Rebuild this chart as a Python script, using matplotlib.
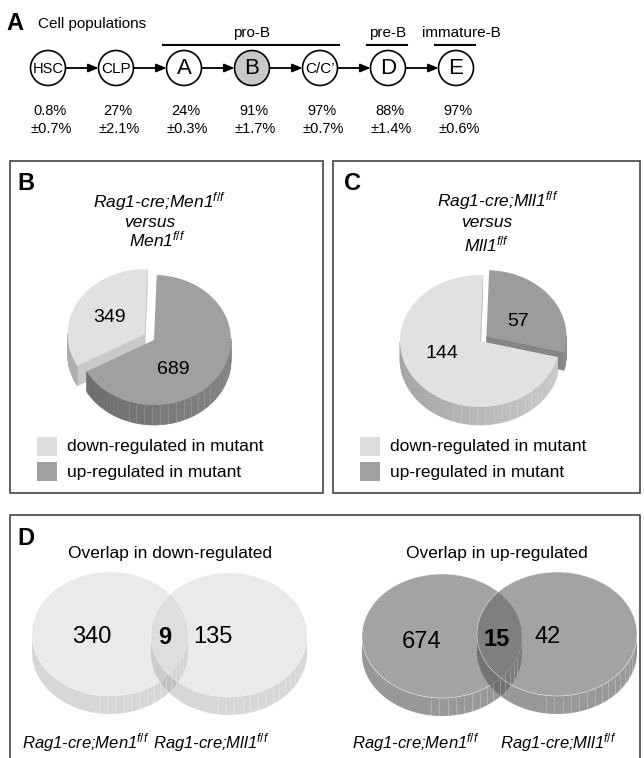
import numpy as np
import matplotlib
matplotlib.use("Agg")
import matplotlib.pyplot as plt
from matplotlib.patches import Polygon, Circle, Rectangle, Ellipse

plt.rcParams["font.family"] = ["Liberation Sans", "DejaVu Sans"]
plt.rcParams["mathtext.fontset"] = "custom"
plt.rcParams["mathtext.rm"] = "Liberation Sans"
plt.rcParams["mathtext.it"] = "Liberation Sans:italic"
plt.rcParams["mathtext.bf"] = "Liberation Sans:bold"

# panel A: cell populations
populations = ["HSC", "CLP", "A", "B", "C/C\u2019", "D", "E"]
pop_pct = ["0.8%", "27%", "24%", "91%", "97%", "88%", "97%"]
pop_sd = ["\u00b10.7%", "\u00b12.1%", "\u00b10.3%", "\u00b11.7%", "\u00b10.7%", "\u00b11.4%", "\u00b10.6%"]
stage_names = ["pro-B", "pre-B", "immature-B"]
stage_span = [(2, 4), (5, 5), (6, 6)]

# panels B and C: number of genes (down, up)
pie_labels = ["down-regulated in mutant", "up-regulated in mutant"]
men1_counts = [349, 689]
mll1_counts = [144, 57]

# panel D: only Men1, both, only Mll1
down_overlap = [340, 9, 135]
up_overlap = [674, 15, 42]
venn_names = [r"Rag1-cre;Men1$^{f/f}$", r"Rag1-cre;Mll1$^{f/f}$"]

LIGHT = (0.882, 0.882, 0.882)
DARK = (0.627, 0.627, 0.627)


def shade(c, f):
    return tuple(min(1.0, max(0.0, v * f)) for v in c)


def pie3d(ax, values, cx, cy, rx, ry, depth, tops, sides, explode, start=88):
    total = float(sum(values))
    spans = []
    a = start
    for v in values:
        s = 360.0 * v / total
        spans.append((a, a + s))
        a += s
    faces = []
    top_polys = []
    stripes = []
    for i, (a1, a2) in enumerate(spans):
        mid = np.radians((a1 + a2) / 2)
        x0 = cx + explode[i] * np.cos(mid)
        y0 = cy - explode[i] * np.sin(mid)

        def edge(deg):
            r = np.radians(deg)
            return x0 + rx * np.cos(r), y0 - ry * np.sin(r)

        tt = np.linspace(a1, a2, int((a2 - a1) * 2) + 4)
        ex, ey = edge(tt)
        top_polys.append((np.column_stack([np.r_[x0, ex], np.r_[y0, ey]]), tops[i]))

        n = int(np.ceil((a2 - a1) / 3.0)) + 1
        bounds = np.linspace(a1, a2, n)
        for k, (t0, t1) in enumerate(zip(bounds[:-1], bounds[1:])):
            tm = np.radians((t0 + t1) / 2)
            if np.sin(tm) >= 0:
                continue
            xa, ya = edge(t0)
            xb, yb = edge(t1)
            quad = [(xa, ya), (xb, yb), (xb, yb + depth), (xa, ya + depth)]
            col = shade(sides[i], 1 + 0.10 * np.cos(tm))
            faces.append((np.mean([ya, yb]) + depth / 2, quad, col))
            if k % 2 == 0 and -0.4 < np.cos(tm) < 0.8:
                stripes.append(((xa, xa), (ya + 1, ya + depth)))

        for deg, normal in ((a1, a1 - 90), (a2, a2 + 90)):
            if np.sin(np.radians(normal)) >= 0:
                continue
            xe, ye = edge(deg)
            quad = [(x0, y0), (xe, ye), (xe, ye + depth), (x0, y0 + depth)]
            faces.append(((y0 + ye) / 2 + depth / 2, quad, shade(sides[i], 1.05)))

    for _, quad, col in sorted(faces, key=lambda f: f[0]):
        ax.add_patch(Polygon(quad, closed=True, fc=col, ec=col, lw=0.5))
    for sx, sy in stripes:
        ax.plot(sx, sy, color="white", lw=0.4, alpha=0.25)
    for poly, col in top_polys:
        ax.add_patch(Polygon(poly, closed=True, fc=col, ec="none"))


def cylinder(ax, cx, cy, rx, ry, depth, top, side, alpha):
    t = np.linspace(np.pi, 2 * np.pi, 120)
    x = cx + rx * np.cos(t)
    y = cy - ry * np.sin(t)
    band = np.column_stack([np.r_[x, x[::-1]], np.r_[y, y[::-1] + depth]])
    ax.add_patch(Polygon(band, closed=True, fc=side, ec="none", alpha=alpha))
    for deg in np.arange(262, 346, 6):
        r = np.radians(deg)
        xs = cx + rx * np.cos(r)
        ys = cy - ry * np.sin(r)
        ax.plot([xs, xs], [ys + 1, ys + depth], color="white", lw=0.5, alpha=0.35)
    ax.add_patch(Ellipse((cx, cy), 2 * rx, 2 * ry, fc=top, ec="white",
                         lw=0.5, alpha=alpha))


fig = plt.figure(figsize=(6.44, 7.58), dpi=100)
ax = fig.add_axes([0, 0, 1, 1])
ax.set_xlim(0, 644)
ax.set_ylim(758, 0)
ax.axis("off")

# ---------- A ----------
ax.text(6, 30, "A", fontsize=17, fontweight="bold")
ax.text(38, 28, "Cell populations", fontsize=11)
xs = [48 + 68 * i for i in range(len(populations))]
cy_a = 68
r = 17.5
label_sizes = [10.5, 11, 16, 16, 11, 16, 16]
for i, name in enumerate(populations):
    fc = "#c8c8c8" if name == "B" else "white"
    ax.add_patch(Circle((xs[i], cy_a), r, fc=fc, ec="black", lw=1.2, zorder=3))
    ax.text(xs[i], cy_a + 1, name, fontsize=label_sizes[i], ha="center",
            va="center", zorder=4)
    ax.text(xs[i] + 2, 115, pop_pct[i], fontsize=10.5, ha="center", va="baseline")
    ax.text(xs[i] + 3, 133, pop_sd[i], fontsize=10.5, ha="center", va="baseline")
    if i < len(populations) - 1:
        ax.annotate("", xy=(xs[i + 1] - r, cy_a), xytext=(xs[i] + r, cy_a),
                    arrowprops=dict(arrowstyle="-|>,head_length=0.6,head_width=0.25",
                                    color="black", lw=1.3, shrinkA=0, shrinkB=0))
for name, (s, e) in zip(stage_names, stage_span):
    x1 = xs[s] - r - 3
    x2 = xs[e] + r + 2
    ax.plot([x1, x2], [45, 45], color="black", lw=1.5)
    ax.text((x1 + x2) / 2 + (6 if name == "immature-B" else 0), 37, name,
            fontsize=11, ha="center", va="baseline")

# ---------- B and C ----------
ax.add_patch(Rectangle((10, 161), 313, 332, fc="none", ec="#444444", lw=1.2))
ax.add_patch(Rectangle((333, 161), 307, 332, fc="none", ec="#444444", lw=1.2))
ax.text(17, 190, "B", fontsize=17, fontweight="bold")
ax.text(344, 190, "C", fontsize=17, fontweight="bold")

ax.text(160, 207, r"Rag1-cre;Men1$^{f/f}$", fontsize=12.5, style="italic",
        ha="center", va="baseline")
ax.text(150, 227, "versus", fontsize=12.5, style="italic", ha="center", va="baseline")
ax.text(157, 246, r"Men1$^{f/f}$", fontsize=12.5, style="italic", ha="center",
        va="baseline")
ax.text(498, 206, r"Rag1-cre;Mll1$^{f/f}$", fontsize=12.5, style="italic",
        ha="center", va="baseline")
ax.text(487, 227, "versus", fontsize=12.5, style="italic", ha="center", va="baseline")
ax.text(487, 251, r"Mll1$^{f/f}$", fontsize=12.5, style="italic", ha="center",
        va="baseline")

pie3d(ax, men1_counts, 154, 340, 77, 65, 20,
      tops=[LIGHT, DARK], sides=[(0.75, 0.75, 0.75), (0.47, 0.47, 0.47)],
      explode=[11, 0])
pie3d(ax, mll1_counts, 480, 341, 80, 66, 18,
      tops=[LIGHT, (0.61, 0.61, 0.61)], sides=[(0.72, 0.72, 0.72), (0.5, 0.5, 0.5)],
      explode=[0, 8])
ax.text(110, 318, str(men1_counts[0]), fontsize=14, ha="center", va="center")
ax.text(173, 370, str(men1_counts[1]), fontsize=14, ha="center", va="center")
ax.text(442, 353, str(mll1_counts[0]), fontsize=14, ha="center", va="center")
ax.text(518, 322, str(mll1_counts[1]), fontsize=14, ha="center", va="center")

for x0 in (37, 360):
    for j, (lab, col) in enumerate(zip(pie_labels, ["#dcdcdc", "#a0a0a0"])):
        y0 = 437 + 25 * j
        ax.add_patch(Rectangle((x0, y0), 20, 19, fc=col, ec="none"))
        ax.text(x0 + 30, y0 + 10, lab, fontsize=12.5, ha="left", va="center")

# ---------- D ----------
ax.plot([10, 10, 640, 640], [758, 515, 515, 758], color="#444444", lw=1.2)
ax.text(17, 545, "D", fontsize=17, fontweight="bold")
ax.text(170, 558, "Overlap in down-regulated", fontsize=12.5, ha="center",
        va="baseline")
ax.text(497, 558, "Overlap in up-regulated", fontsize=12.5, ha="center",
        va="baseline")

cylinder(ax, 110, 634, 78, 62, 18, (0.82, 0.82, 0.82), (0.66, 0.66, 0.66), 0.45)
cylinder(ax, 229, 635, 78, 62, 18, (0.82, 0.82, 0.82), (0.66, 0.66, 0.66), 0.45)
cylinder(ax, 442, 636, 80, 62, 18, (0.41, 0.41, 0.41), (0.34, 0.34, 0.34), 0.61)
cylinder(ax, 557, 634, 80, 62, 18, (0.41, 0.41, 0.41), (0.34, 0.34, 0.34), 0.61)

for (x, txt, bold) in zip([92, 165, 213], down_overlap, [False, True, False]):
    ax.text(x, 637, str(txt), fontsize=17, ha="center", va="center",
            fontweight="bold" if bold else "normal")
for (x, y, txt, bold) in zip([422, 497, 548], [642, 640, 637], up_overlap,
                             [False, True, False]):
    ax.text(x, y, str(txt), fontsize=17, ha="center", va="center",
            fontweight="bold" if bold else "normal")

for x, name in zip([22, 153, 352, 500], venn_names * 2):
    ax.text(x, 748, name, fontsize=12, style="italic", ha="left", va="baseline")

fig.savefig("out.png", dpi=100)
